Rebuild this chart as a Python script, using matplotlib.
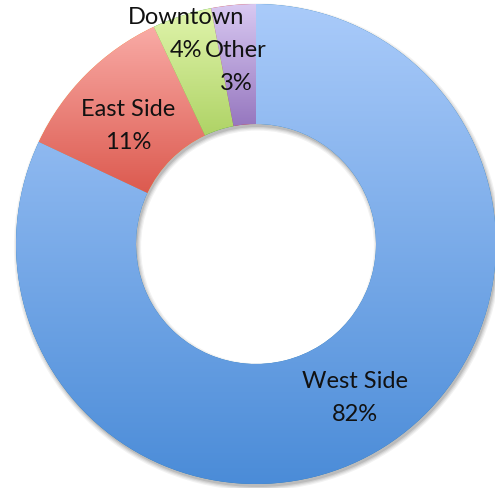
import numpy as np
import matplotlib.pyplot as plt
from matplotlib.colors import LinearSegmentedColormap
from matplotlib.patches import Wedge

labels = ['West Side', 'East Side', 'Downtown', 'Other']
shares = [82, 11, 4, 3]
top_colors = ['#aacbfa', '#f9aba6', '#e1f5ad', '#d9c9f2']
bottom_colors = ['#4b8cd8', '#dc5a4f', '#afd366', '#9677bf']
# label placement (radius, angle nudge in degrees); Excel pushed Downtown outward
label_radius = [0.76, 0.727, 0.926, 0.748]
label_nudge = [0.4, 2.2, 0.3, 1.0]

R = 240.0  # outer radius in pixels
line_gap = 33 / R
fig = plt.figure(figsize=(4.95, 4.89), dpi=100)
ax = fig.add_axes([0, 0, 1, 1])

# soft drop shadow under the ring
for k, a in enumerate([0.05, 0.06, 0.08, 0.10]):
    grow = (3 - k) * 1.2 / R
    ring = Wedge((1.5 / R, -3 / R), 1 + grow, 0, 360, width=0.5 + 2 * grow,
                 facecolor='black', edgecolor='none', alpha=a, zorder=0)
    ax.add_patch(ring)

wedges, _ = ax.pie(shares, startangle=90, counterclock=False, radius=1,
                   wedgeprops=dict(width=0.5, linewidth=0), center=(0, 0))

grad = np.linspace(0, 1, 256).reshape(-1, 1)
for w, c0, c1, lab, share, lr, nd in zip(wedges, top_colors, bottom_colors,
                                         labels, shares, label_radius, label_nudge):
    ang = np.radians(np.linspace(w.theta1, w.theta2, 300))
    xs = np.concatenate([np.cos(ang), 0.5 * np.cos(ang)])
    ys = np.concatenate([np.sin(ang), 0.5 * np.sin(ang)])
    cmap = LinearSegmentedColormap.from_list(lab, [c1, c0])
    im = ax.imshow(grad, cmap=cmap, origin='lower', aspect='auto',
                   extent=[xs.min(), xs.max(), ys.min(), ys.max()], zorder=2)
    im.set_clip_path(w)
    mid = np.radians((w.theta1 + w.theta2) / 2 + nd)
    cx, cy = lr * np.cos(mid), lr * np.sin(mid)
    for txt, dy in [(lab, line_gap / 2), (f'{share}%', -line_gap / 2)]:
        ax.text(cx, cy + dy, txt, ha='center', va='center', fontsize=17,
                family='Lato', color='#111111', zorder=3)

ax.set_xlim(-256 / R, (495 - 256) / R)
ax.set_ylim(-(489 - 245) / R, 245 / R)
ax.set_aspect('auto')
ax.axis('off')

fig.savefig('out.png', dpi=100)
